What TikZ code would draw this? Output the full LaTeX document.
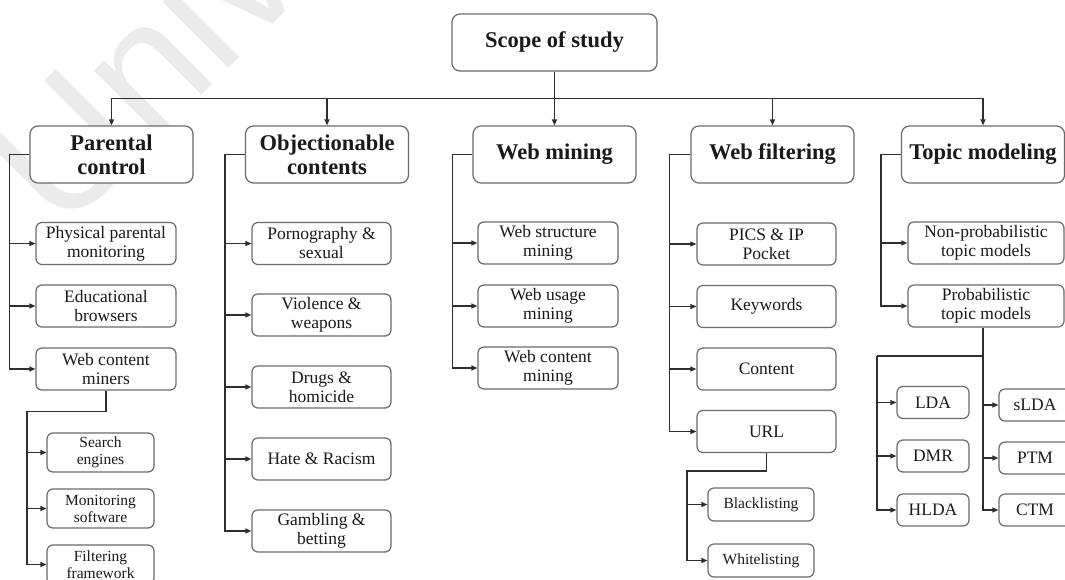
\documentclass[tikz,border=0pt]{standalone}
\usepackage{fontspec}
\setmainfont{Liberation Serif}
\newfontfamily\wmfont{Liberation Sans}
\usetikzlibrary{arrows.meta,calc}

\definecolor{boxline}{HTML}{6A6A6A}
\definecolor{wirecol}{HTML}{2E2E2E}
\definecolor{ink}{HTML}{1A1A1A}
\definecolor{wmark}{HTML}{EBEBEB}

\tikzset{
  boxbase/.style={draw=boxline, line width=1.2pt, fill=white, align=center,
    inner sep=0pt, text=ink},
  headbox/.style={boxbase, rounded corners=8pt, minimum width=163pt,
    minimum height=57pt, font=\bfseries\fontsize{22.5}{24}\selectfont},
  itembox/.style={boxbase, rounded corners=6pt, minimum width=140pt,
    minimum height=42pt, font=\fontsize{17.5}{19}\selectfont},
  smallbox/.style={boxbase, rounded corners=6pt, minimum width=107pt,
    minimum height=39pt, font=\fontsize{15.5}{17}\selectfont},
  modelbox/.style={boxbase, rounded corners=6pt, minimum width=72pt,
    minimum height=32pt, font=\fontsize{17.5}{19}\selectfont},
  wire/.style={draw=wirecol, line width=1.2pt},
  arr/.style={wire, -{Triangle[length=6pt,width=5pt]}},
}

\begin{document}
\begin{tikzpicture}[x=1pt,y=-1pt]
\useasboundingbox (0,0) rectangle (1065,579);
\clip (0,0) rectangle (1065,579);
\fill[white] (0,0) rectangle (1065,579);

% faint watermark behind the chart
\node[font=\wmfont\fontsize{176}{176}\selectfont, text=wmark, rotate=45,
  anchor=base west, inner sep=0pt] (wm0) at (61.5,235.4) {Univ};

% root and first level
\node[headbox, minimum width=205pt] (root) at (554.5,42.5) {Scope of study};
\node[headbox] (par) at (111.5,154.5) {Parental\\control};
\node[headbox] (obj) at (327,154.5) {Objectionable\\contents};
\node[headbox] (wmn) at (554.5,154.5) {Web mining};
\node[headbox] (wfl) at (772.5,154.5) {Web filtering};
\node[headbox] (tpm) at (983,154.5) {Topic modeling};

\coordinate (bus) at (554.5,98.5);
\draw[arr] (root.south) -- (wmn.north);
\draw[arr] (bus) -| (par.north);
\draw[arr] (bus) -| (obj.north);
\draw[arr] (bus) -| (wfl.north);
\draw[arr] (bus) -| (tpm.north);

% parental control
\node[itembox] (ppm) at (106,243.5) {Physical parental\\monitoring};
\node[itembox] (edu) at (106,306) {Educational\\browsers};
\node[itembox] (wcm) at (106,369) {Web content\\miners};
\coordinate (parL) at ($(par.west)+(-20,0)$);
\draw[arr] (par.west) -- (parL) |- (wcm.west);
\draw[arr] (parL |- ppm.west) -- (ppm.west);
\draw[arr] (parL |- edu.west) -- (edu.west);

\node[smallbox] (sen) at (100.5,452.5) {Search\\engines};
\node[smallbox] (msw) at (100.5,508.5) {Monitoring\\software};
\node[smallbox] (ffw) at (100.5,564.5) {Filtering\\framework};
\coordinate (wcmL) at (27,411.5);
\draw[arr] (wcm.south) |- (wcmL) |- (ffw.west);
\draw[arr] (wcmL |- sen.west) -- (sen.west);
\draw[arr] (wcmL |- msw.west) -- (msw.west);

% objectionable contents
\node[itembox, minimum width=139pt] (por) at (321.5,243.5) {Pornography \&\\sexual};
\node[itembox, minimum width=139pt] (vio) at (321.5,315) {Violence \&\\weapons};
\node[itembox, minimum width=139pt] (drg) at (321.5,387) {Drugs \&\\homicide};
\node[itembox, minimum width=139pt] (hat) at (321.5,459) {Hate \& Racism};
\node[itembox, minimum width=139pt] (gam) at (321.5,531) {Gambling \&\\betting};
\coordinate (objL) at ($(obj.west)+(-20,0)$);
\draw[arr] (obj.west) -- (objL) |- (gam.west);
\foreach \n in {por,vio,drg,hat}
  \draw[arr] (objL |- \n.west) -- (\n.west);

% web mining
\node[itembox] (wsm) at (548,243) {Web structure\\mining};
\node[itembox] (wum) at (548,306) {Web usage\\mining};
\node[itembox] (wcn) at (548,368) {Web content\\mining};
\coordinate (wmnL) at ($(wmn.west)+(-20,0)$);
\draw[arr] (wmn.west) -- (wmnL) |- (wcn.west);
\draw[arr] (wmnL |- wsm.west) -- (wsm.west);
\draw[arr] (wmnL |- wum.west) -- (wum.west);

% web filtering
\node[itembox, minimum width=139pt] (pic) at (766.5,244) {PICS \& IP\\Pocket};
\node[itembox, minimum width=139pt] (kwd) at (766.5,306.5) {Keywords};
\node[itembox, minimum width=139pt] (cnt) at (766.5,369) {Content};
\node[itembox, minimum width=139pt] (url) at (766.5,431.5) {URL};
\coordinate (wflL) at ($(wfl.west)+(-21,0)$);
\draw[arr] (wfl.west) -- (wflL) |- (url.west);
\draw[arr] (wflL |- pic.west) -- (pic.west);
\draw[arr] (wflL |- kwd.west) -- (kwd.west);
\draw[arr] (wflL |- cnt.west) -- (cnt.west);

\node[smallbox, minimum width=106pt, minimum height=33pt] (blk) at (761,504.5) {Blacklisting};
\node[smallbox, minimum width=106pt, minimum height=33pt] (wht) at (761,560.5) {Whitelisting};
\coordinate (urlL) at (687,471);
\draw[arr] (url.south) |- (urlL) |- (wht.west);
\draw[arr] (urlL |- blk.west) -- (blk.west);

% topic modeling
\node[itembox, minimum width=156pt] (npt) at (986,243) {Non-probabilistic\\topic models};
\node[itembox, minimum width=156pt] (prb) at (986,306) {Probabilistic\\topic models};
\coordinate (tpmL) at ($(tpm.west)+(-20,0)$);
\draw[arr] (tpm.west) -- (tpmL) |- (prb.west);
\draw[arr] (tpmL |- npt.west) -- (npt.west);

\node[modelbox] (lda) at (933,402.5) {LDA};
\node[modelbox] (dmr) at (933,456) {DMR};
\node[modelbox] (hld) at (933,510) {HLDA};
\node[modelbox] (sld) at (1035,405) {sLDA};
\node[modelbox] (ptm) at (1035,458) {PTM};
\node[modelbox] (ctm) at (1035,510) {CTM};
\coordinate (prbJ) at (983,356);
\coordinate (prbL) at (877,356);
\draw[wire] (prb.south -| prbJ) -- (prbJ) -- (prbL);
\draw[arr] (prbL) |- (hld.west);
\draw[arr] (prbJ) |- (ctm.west);
\draw[arr] (prbL |- lda.west) -- (lda.west);
\draw[arr] (prbL |- dmr.west) -- (dmr.west);
\draw[arr] (prbJ |- sld.west) -- (sld.west);
\draw[arr] (prbJ |- ptm.west) -- (ptm.west);
\end{tikzpicture}
\end{document}
